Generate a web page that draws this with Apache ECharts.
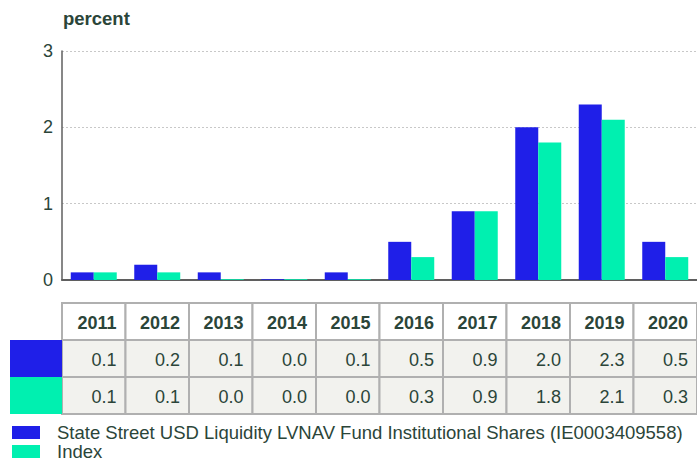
<!DOCTYPE html>
<html>
<head>
<meta charset="utf-8">
<script src="https://cdn.jsdelivr.net/npm/echarts@6/dist/echarts.min.js"></script>
<style>
  html, body { margin: 0; padding: 0; background: #fff; }
  #main { width: 697px; height: 461px; }
</style>
</head>
<body>
<div id="main"></div>
<script>
var years = ['2011', '2012', '2013', '2014', '2015', '2016', '2017', '2018', '2019', '2020'];
var fundName = 'State Street USD Liquidity LVNAV Fund Institutional Shares (IE0003409558)';
var fundValues = [0.1, 0.2, 0.1, 0.01, 0.1, 0.5, 0.9, 2.0, 2.3, 0.5];
var indexName = 'Index';
var indexValues = [0.1, 0.1, 0.01, 0.01, 0.01, 0.3, 0.9, 1.8, 2.1, 0.3];
var yTicks = [0, 1, 2, 3];

var fundColor = '#1f1fe8';
var indexColor = '#00f0b0';
var textColor = '#2b4539';
var fontFam = '"Liberation Sans", Arial, sans-serif';

var chart = echarts.init(document.getElementById('main'), null, { renderer: 'svg' });

function legendFor(name, top) {
    return {
        left: 12, top: top, padding: 0,
        itemWidth: 28, itemHeight: 13,
        icon: 'rect',
        textStyle: { fontSize: 18.5, color: textColor, padding: [0, 0, 0, 12], fontFamily: fontFam },
        data: [name]
    };
}

var option = {
    animation: false,
    textStyle: { fontFamily: fontFam },
    grid: { left: 62, right: 0, top: 51, height: 229 },
    title: {
        text: 'percent',
        left: 58, top: 4,
        textStyle: { fontSize: 18.5, fontWeight: 'bold', color: textColor, fontFamily: fontFam }
    },
    legend: [legendFor(fundName, 423), legendFor(indexName, 442)],
    xAxis: {
        type: 'category',
        data: years,
        axisTick: { show: false },
        axisLabel: { show: false },
        axisLine: { lineStyle: { color: '#5f5f5f', width: 2 } }
    },
    yAxis: {
        type: 'value',
        min: yTicks[0], max: yTicks[yTicks.length - 1], interval: 1,
        axisLine: { show: true, lineStyle: { color: '#5f5f5f', width: 1.5 } },
        axisTick: { show: false },
        axisLabel: { fontSize: 18, color: textColor, margin: 9 },
        splitLine: { lineStyle: { color: '#c8c8c8', type: [2, 2] } }
    },
    series: [
        { name: fundName, type: 'bar', data: fundValues, barWidth: 23, barGap: '0%',
          itemStyle: { color: fundColor } },
        { name: indexName, type: 'bar', data: indexValues, barWidth: 23,
          itemStyle: { color: indexColor } }
    ]
};
chart.setOption(option);

// table below the plot, columns aligned with the category axis
var rowTops = [303, 340, 377, 414];
var rowSeries = [fundValues, indexValues];
var rowColors = [fundColor, indexColor];
var els = [];
var c0 = chart.convertToPixel({ xAxisIndex: 0 }, years[0]);
var c1 = chart.convertToPixel({ xAxisIndex: 0 }, years[1]);
var colW = c1 - c0;
var border = { stroke: '#b0b0b0', lineWidth: 2 };

years.forEach(function (y, i) {
    var cx = chart.convertToPixel({ xAxisIndex: 0 }, y);
    var x0 = cx - colW / 2;
    // header cell
    els.push({ type: 'rect', shape: { x: x0, y: rowTops[0], width: colW, height: rowTops[1] - rowTops[0] },
        style: { fill: '#fff', stroke: border.stroke, lineWidth: border.lineWidth } });
    els.push({ type: 'text', x: x0 + colW - 9, y: (rowTops[0] + rowTops[1]) / 2 + 1,
        style: { text: y, fill: textColor, font: 'bold 18px ' + fontFam, align: 'right', verticalAlign: 'middle' } });
    rowSeries.forEach(function (vals, r) {
        var top = rowTops[r + 1], h = rowTops[r + 2] - top;
        els.push({ type: 'rect', shape: { x: x0, y: top, width: colW, height: h },
            style: { fill: '#f2f2ee', stroke: border.stroke, lineWidth: border.lineWidth } });
        els.push({ type: 'text', x: x0 + colW - 9, y: top + h / 2 + 1,
            style: { text: vals[i].toFixed(1), fill: textColor, font: '18px ' + fontFam, align: 'right', verticalAlign: 'middle' } });
    });
});
rowColors.forEach(function (col, r) {
    var top = rowTops[r + 1];
    els.push({ type: 'rect', shape: { x: 10, y: top, width: c0 - colW / 2 - 10, height: rowTops[r + 2] - top },
        style: { fill: col } });
});
chart.setOption({ graphic: { elements: els } });
</script>
</body>
</html>
